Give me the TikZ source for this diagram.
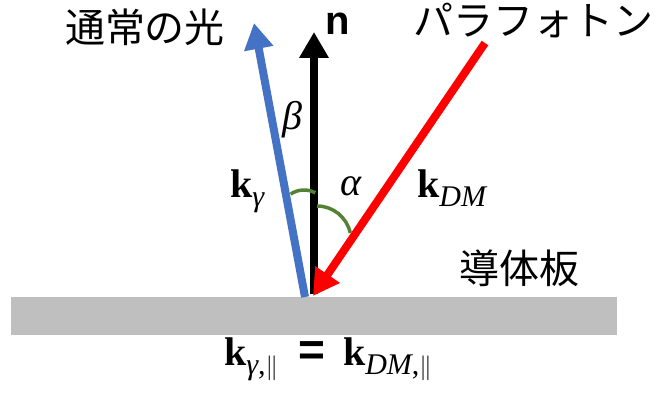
\documentclass[tikz,border=0pt]{standalone}
\usepackage{fontspec}
\setmainfont{Liberation Serif}
\newfontfamily\jp{Noto Sans CJK JP}
\newfontfamily\nsans{Liberation Sans}
\usetikzlibrary{arrows.meta}
\definecolor{myblue}{HTML}{4472C4}
\definecolor{myred}{HTML}{FF0000}
\definecolor{mygreen}{HTML}{548235}
\definecolor{plategray}{HTML}{BFBFBF}
\newcommand{\bigf}{\fontsize{40}{48}\selectfont}
\newcommand{\subf}{\fontsize{30}{32}\selectfont}
\newcommand{\lowsub}[1]{\raisebox{-9pt}{\subf\itshape #1}}
\newcommand{\pll}{\raisebox{-9pt}{\subf ,$\|$}}
\newcommand{\bigeq}{{\nsans\bfseries\fontsize{46}{48}\selectfont =}}
\begin{document}
\begin{tikzpicture}[x=1pt,y=1pt,
  vec/.style={line width=8pt, -{Triangle[width=28pt,length=26pt]}},
  jlabel/.style={font=\jp\bigf, inner sep=0pt},
  angarc/.style={mygreen, line width=3.5pt},
  lbl/.style={inner sep=0pt, anchor=base}]
\useasboundingbox (0,0) rectangle (665,392);
\node[fill=plategray, minimum width=606pt, minimum height=38pt, inner sep=0pt] (plate) at (314,76) {};
\coordinate (bS) at (305,95); \coordinate (bE) at (254,369);
\coordinate (nS) at (314,98); \coordinate (nE) at (314,360);
\coordinate (rS) at (485,349); \coordinate (rE) at (313,96);
\draw[vec, myblue] (bS) -- (bE);
\draw[vec, black] (nS) -- (nE);
\draw[vec, myred] (rS) -- (rE);
\draw[angarc] (317,186) arc[start angle=90,end angle=12,radius=34];
\draw[angarc] (290.6,197.9) arc[start angle=124,end angle=62,radius=24];
\node[jlabel] (light) at (145,365) {通常の光};
\node[jlabel] (para) at (533,371) {パラフォトン};
\node[jlabel] (plateLbl) at (519,124) {導体板};
\node[lbl, font=\nsans\bfseries\bigf] (n) at (338,357) {n};
\node[lbl, font=\bigf\itshape] (beta) at (292,262) {β};
\node[lbl, font=\bigf\itshape] (alpha) at (351,197) {α};
\node[lbl, anchor=base west, font=\bigf] (kg) at (230,195) {\textbf{k}\lowsub{γ}};
\node[lbl, anchor=base west, font=\bigf] (kdm) at (417,195) {\textbf{k}\lowsub{DM}};
\node[lbl, font=\bigf] (eq) at (328,27) {\textbf{k}\lowsub{γ}\pll\hspace{0.5em}\bigeq\hspace{0.45em}\textbf{k}\lowsub{DM}\pll};
\end{tikzpicture}
\end{document}
